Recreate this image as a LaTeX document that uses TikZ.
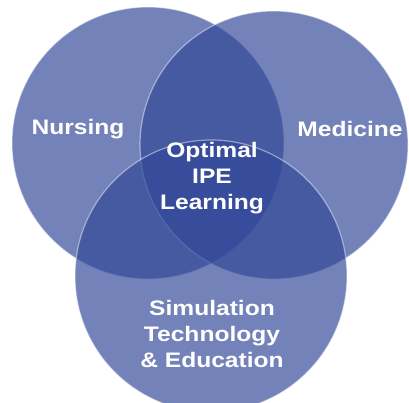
\documentclass[tikz,border=0pt]{standalone}
\usepackage{fontspec}
\setmainfont{Liberation Sans}

\definecolor{vennblue}{RGB}{49,71,152}

\tikzset{
    disc/.style={fill=vennblue, fill opacity=0.68, draw=white, draw opacity=0.45, line width=1.2pt},
    label/.style={text=white, font=\fontsize{21}{26}\selectfont\bfseries, align=center, xscale=1.17}
}

\begin{document}
\begin{tikzpicture}[x=1pt, y=-1pt]
    \useasboundingbox (0, 0) rectangle (409, 402);
    \clip (0, 0) rectangle (409, 402);
    % the three circles
    \path[disc] (148, 143) circle [radius=136pt];
    \path[disc] (274, 145) circle [radius=134pt];
    \path[disc] (211, 276) circle [radius=136pt];

    \node[label] (nursing) at (78, 129) {Nursing};
    \node[label] (medicine) at (350, 129) {Medicine};
    \node[label] (optimal) at (212, 178) {Optimal\\IPE\\Learning};
    \node[label] (simulation) at (212, 334) {Simulation\\Technology\\\& Education};
\end{tikzpicture}
\end{document}
